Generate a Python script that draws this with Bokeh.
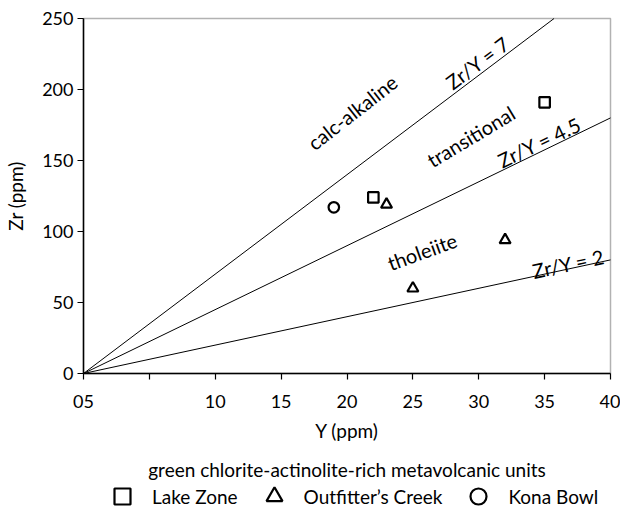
from bokeh.plotting import figure
from bokeh.models import FixedTicker, Legend, LegendItem, Range1d, BoxAnnotation
from bokeh.core.properties import value
from bokeh.embed import file_html
from bokeh.resources import INLINE

FONT = "Lato"

# Discrimination lines (Zr/Y ratios)
ratios = [2, 4.5, 7]
ratio_labels = ["Zr/Y = 2", "Zr/Y = 4.5", "Zr/Y = 7"]
ratio_label_x = [36.8, 34.6, 29.9]
ratio_label_y = [77.5, 163, 219]
ratio_label_angle = [12.1, 25.7, 36.8]

# Field names
field_names = ["calc-alkaline", "transitional", "tholeiite"]
field_x = [20.4, 29.4, 25.7]
field_y = [184, 167, 86]
field_angle = [38, 31, 20]

# Samples: Y (ppm), Zr (ppm)
lake_y = [22, 35]
lake_zr = [124, 191]
outf_y = [23, 32, 25]
outf_zr = [119, 94, 60]
kona_y = [19]
kona_zr = [117]

x_ticks = [0, 5, 10, 15, 20, 25, 30, 35, 40]
x_tick_labels = {0: "05", 5: ""}
y_ticks = [0, 50, 100, 150, 200, 250]
x_title = "Y (ppm)"
caption = "green chlorite-actinolite-rich metavolcanic units"
y_title = "Zr (ppm)"

# layout: the frame covers the whole canvas; both axes are pinned at 0 so that
# the tick labels, titles and the legend below the axes are not clipped
W, H = 620, 509
AX_LEFT_PX, AX_RIGHT_PX, AX_TOP_PX, AX_BOTTOM_PX = 83, 610, 18, 373
px_x = (AX_RIGHT_PX - AX_LEFT_PX) / (x_ticks[-1] - x_ticks[0])
px_y = (AX_BOTTOM_PX - AX_TOP_PX) / (y_ticks[-1] - y_ticks[0])
x_start = x_ticks[0] - AX_LEFT_PX / px_x
x_end = x_ticks[-1] + (W - AX_RIGHT_PX) / px_x
y_end = y_ticks[-1] + AX_TOP_PX / px_y
y_start = y_ticks[0] - (H - AX_BOTTOM_PX) / px_y

p = figure(width=W, height=H, output_backend="svg", toolbar_location=None,
           x_range=Range1d(x_start, x_end), y_range=Range1d(y_start, y_end),
           min_border_left=0, min_border_right=0, min_border_top=0, min_border_bottom=0)
p.background_fill_color = "white"
p.border_fill_color = "white"
p.outline_line_color = None
p.xgrid.visible = False
p.ygrid.visible = False

for ax in (p.xaxis[0], p.yaxis[0]):
    ax.axis_line_width = 1.5
    ax.axis_line_color = "black"
    ax.major_tick_out = 6
    ax.major_tick_in = 0
    ax.minor_tick_out = 0
    ax.minor_tick_in = 0
    ax.major_tick_line_width = 1.2
    ax.major_label_text_font = FONT
    ax.major_label_text_font_size = "18px"
    ax.major_label_text_color = "black"
    ax.axis_label_text_font = FONT
    ax.axis_label_text_font_size = "19px"
    ax.axis_label_text_font_style = "normal"
    ax.axis_label_text_color = "black"

p.xaxis.fixed_location = y_ticks[0]
p.xaxis.bounds = (x_ticks[0], x_ticks[-1])
p.xaxis.ticker = FixedTicker(ticks=x_ticks)
p.xaxis.major_label_overrides = x_tick_labels
p.xaxis.axis_label = x_title + "\n" + caption
p.xaxis.axis_label_text_line_height = 1.7
p.xaxis.major_label_standoff = 15
p.xaxis.axis_label_standoff = 8

p.yaxis.fixed_location = x_ticks[0]
p.yaxis.bounds = (y_ticks[0], y_ticks[-1])
p.yaxis.ticker = FixedTicker(ticks=y_ticks)
p.yaxis.axis_label = y_title
p.yaxis.major_label_standoff = 4
p.yaxis.axis_label_standoff = 12

# plot box (top and right edges)
p.add_layout(BoxAnnotation(left=x_ticks[0], right=x_ticks[-1], bottom=y_ticks[0], top=y_ticks[-1],
                           fill_alpha=0, line_color="black", line_width=1.5))

# ratio lines Zr = r * Y, ending where they leave the plot box
line_x_end = [min(x_ticks[-1], y_ticks[-1] / r) for r in ratios]
p.multi_line(xs=[[0, xe] for xe in line_x_end],
             ys=[[0, r * xe] for r, xe in zip(ratios, line_x_end)],
             line_color="black", line_width=1)

p.text(x=ratio_label_x, y=ratio_label_y, text=ratio_labels, angle=ratio_label_angle,
       angle_units="deg", text_font=value(FONT), text_font_size="20px",
       text_align="center", text_baseline="middle", text_color="black")
p.text(x=field_x, y=field_y, text=field_names, angle=field_angle,
       angle_units="deg", text_font=value(FONT), text_font_size="20px",
       text_align="center", text_baseline="middle", text_color="black")

r_lake = p.scatter(lake_y, lake_zr, marker="square", size=10.5, fill_color=None,
                   line_color="black", line_width=2.2)
r_outf = p.scatter(outf_y, outf_zr, marker="triangle", size=11, fill_color=None,
                   line_color="black", line_width=2.2)
r_kona = p.scatter(kona_y, kona_zr, marker="circle", size=10.5, fill_color=None,
                   line_color="black", line_width=2.2)

legend = Legend(items=[LegendItem(label="Lake Zone", renderers=[r_lake]),
                       LegendItem(label="Outfitter\u2019s Creek", renderers=[r_outf]),
                       LegendItem(label="Kona Bowl", renderers=[r_kona])],
                orientation="horizontal", location=(102, -7),
                glyph_width=40, glyph_height=40, label_standoff=10, spacing=16,
                padding=0, margin=0, border_line_color=None, background_fill_alpha=0,
                label_text_font=FONT, label_text_font_size="19px", label_text_color="black")
p.add_layout(legend, "center")

open("out.html", "w").write(file_html(p, INLINE))
